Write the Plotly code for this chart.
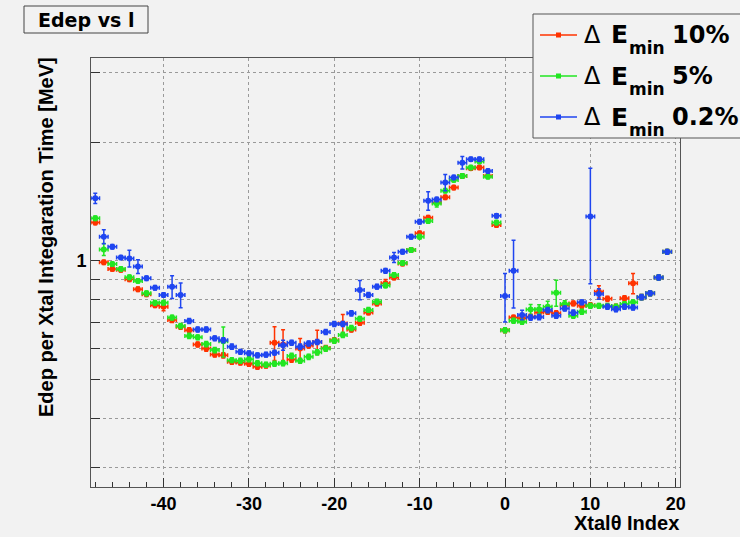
import math
import plotly.graph_objects as go

# ---------------- data ----------------
xtal_index = list(range(-48, 20))

series_names = ["10%", "5%", "0.2%"]
series_colors = ["#ff3300", "#22e622", "#1f45f0"]

red_vals = [1.251, 0.992, 0.955, 0.950, 0.899, 0.848, 0.824, 0.773, 0.766, 0.709,
            0.682, 0.668, 0.615, 0.600, 0.580, 0.577, 0.556, 0.553, 0.549, 0.540,
            0.544, 0.621, 0.615, 0.563, 0.600, 0.611, 0.624, 0.602, 0.630, 0.695,
            0.671, 0.698, 0.741, 0.781, 0.878, 0.908, 0.986, 1.066, 1.175, 1.287,
            1.407, 1.450, 1.534, 1.640, 1.718, 1.724, 1.640, 1.233,
            0.668, 0.719, 0.716, 0.723, 0.741, 0.744, 0.737, 0.773, 0.781, 0.770,
            0.773, 0.836, 0.802, 0.766, 0.805, 0.878, 0.810, 0.828, 0.908, 1.055]
red_err = [0.015, 0.012, 0.012, 0.012, 0.012, 0.011, 0.011, 0.010, 0.018, 0.010,
           0.010, 0.010, 0.009, 0.009, 0.009, 0.009, 0.008, 0.008, 0.008, 0.008,
           0.008, 0.061, 0.055, 0.009, 0.036, 0.009, 0.044, 0.009, 0.009, 0.037,
           0.010, 0.010, 0.010, 0.011, 0.020, 0.012, 0.013, 0.014, 0.015, 0.016,
           0.017, 0.018, 0.019, 0.020, 0.020, 0.020, 0.020, 0.016,
           0.010, 0.010, 0.010, 0.010, 0.011, 0.011, 0.011, 0.011, 0.011, 0.011,
           0.011, 0.030, 0.012, 0.011, 0.012, 0.052, 0.012, 0.012, 0.013, 0.015]

green_vals = [1.283, 1.070, 0.982, 0.955, 0.910, 0.890, 0.828, 0.784, 0.784, 0.719,
              0.685, 0.646, 0.641, 0.616, 0.595, 0.626, 0.561, 0.559, 0.564, 0.551,
              0.546, 0.549, 0.551, 0.575, 0.559, 0.572, 0.587, 0.600, 0.628, 0.650,
              0.677, 0.714, 0.752, 0.789, 0.867, 0.922, 0.988, 1.066, 1.152, 1.262,
              1.399, 1.507, 1.604, 1.642, 1.724, 1.785, 1.635, 1.251,
              0.668, 0.706, 0.702, 0.754, 0.755, 0.766, 0.831, 0.778, 0.727, 0.744,
              0.770, 0.770, 0.769, 0.766, 0.778, 0.786, 0.810, 0.828, 0.908, 1.055]
green_err = [0.016, 0.038, 0.012, 0.012, 0.012, 0.011, 0.011, 0.010, 0.010, 0.010,
             0.010, 0.010, 0.009, 0.009, 0.009, 0.055, 0.008, 0.008, 0.008, 0.008,
             0.008, 0.008, 0.008, 0.009, 0.008, 0.009, 0.009, 0.009, 0.009, 0.010,
             0.010, 0.010, 0.010, 0.011, 0.012, 0.012, 0.013, 0.014, 0.015, 0.016,
             0.030, 0.018, 0.019, 0.020, 0.020, 0.020, 0.020, 0.016,
             0.010, 0.010, 0.010, 0.022, 0.020, 0.025, 0.063, 0.015, 0.011, 0.011,
             0.011, 0.011, 0.011, 0.011, 0.011, 0.011, 0.012, 0.012, 0.013, 0.015]

blue_vals = [1.441, 1.152, 1.087, 1.021, 1.015, 0.968, 0.904, 0.856, 0.820, 0.861,
             0.820, 0.705, 0.671, 0.671, 0.637, 0.630, 0.607, 0.589, 0.584, 0.577,
             0.579, 0.586, 0.612, 0.621, 0.607, 0.618, 0.624, 0.661, 0.693, 0.693,
             0.737, 0.845, 0.820, 0.861, 0.944, 1.021, 1.055, 1.152, 1.257, 1.421,
             1.432, 1.581, 1.628, 1.774, 1.810, 1.810, 1.689, 1.301,
             0.815, 0.944, 0.730, 0.719, 0.721, 0.751, 0.727, 0.758, 0.740, 0.786,
             1.296, 0.825, 0.766, 0.755, 0.766, 0.763, 0.810, 0.828, 0.908, 1.055]
blue_err = [0.043, 0.047, 0.014, 0.012, 0.049, 0.039, 0.012, 0.011, 0.011, 0.057,
            0.059, 0.010, 0.010, 0.010, 0.009, 0.009, 0.009, 0.008, 0.008, 0.008,
            0.008, 0.008, 0.018, 0.009, 0.009, 0.009, 0.009, 0.010, 0.010, 0.010,
            0.011, 0.047, 0.012, 0.012, 0.013, 0.030, 0.014, 0.015, 0.016, 0.077,
            0.018, 0.075, 0.020, 0.064, 0.022, 0.022, 0.020, 0.016,
            0.114, 0.184, 0.020, 0.011, 0.011, 0.011, 0.011, 0.011, 0.011, 0.011,
            0.420, 0.025, 0.011, 0.011, 0.011, 0.011, 0.012, 0.012, 0.013, 0.015]

bin_half_width = 0.5
x_tick_vals = [-40, -30, -20, -10, 0, 10, 20]
x_tick_text = ["-40", "-30", "-20", "-10", "0", "10", "20"]
y_tick_vals = [0.3, 0.4, 0.5, 0.6, 0.7, 0.8, 0.9, 1, 2, 3]
y_tick_text = ["", "", "", "", "", "", "", "1", "", ""]

title_text = "Edep vs l"
x_title = "Xtal\u03b8 Index"
y_title = "Edep per Xtal Integaration Time [MeV]"

# ---------------- layout geometry (pixels) ----------------
W, H = 740, 537
L, R, T, B = 91, 680, 58, 487
BG = "#f2f2f2"


def fx(p):
    return (p - L) / (R - L)


def fy(p):
    return (B - p) / (B - T)


fig = go.Figure()
for vals, errs, col in [(red_vals, red_err, series_colors[0]),
                        (green_vals, green_err, series_colors[1]),
                        (blue_vals, blue_err, series_colors[2])]:
    fig.add_trace(go.Scatter(
        x=xtal_index, y=vals, mode="markers",
        marker=dict(symbol="circle", size=6, color=col, line=dict(width=0)),
        error_y=dict(type="data", array=errs, visible=True, color=col, thickness=1.5, width=2),
        error_x=dict(type="constant", value=bin_half_width, visible=True, color=col, thickness=1.5, width=2),
        showlegend=False, hoverinfo="skip"))

tickfont = dict(family="Liberation Sans", size=18, color="black", weight="bold")

fig.update_xaxes(range=[-48.5, 20.5], tickmode="array", tickvals=x_tick_vals, ticktext=x_tick_text,
                 ticks="inside", ticklen=9, tickwidth=1, tickcolor="#333",
                 showgrid=True, gridcolor="#9a9a9a", griddash="dot", gridwidth=1,
                 showline=True, linecolor="#555", linewidth=1, mirror=True,
                 zeroline=False, tickfont=tickfont,
                 minor=dict(tickmode="linear", tick0=0, dtick=2, ticks="inside", ticklen=5,
                            tickcolor="#333", showgrid=False))
fig.update_yaxes(type="log", range=[math.log10(0.2678), math.log10(3.265)],
                 tickmode="array", tickvals=y_tick_vals, ticktext=y_tick_text,
                 ticks="inside", ticklen=9, tickwidth=1, tickcolor="#333",
                 showgrid=True, gridcolor="#9a9a9a", griddash="dot", gridwidth=1,
                 showline=True, linecolor="#555", linewidth=1, mirror=True,
                 zeroline=False, tickfont=tickfont)

shapes = []
annotations = []

# title box
shapes.append(dict(type="rect", xref="paper", yref="paper",
                   x0=fx(24), x1=fx(148), y0=fy(33), y1=fy(6),
                   line=dict(color="#444", width=1), fillcolor=BG, layer="above"))
annotations.append(dict(xref="paper", yref="paper", x=fx(86), y=fy(20), text=title_text,
                        showarrow=False, xanchor="center", yanchor="middle",
                        font=dict(family="DejaVu Sans", size=19, color="black", weight="bold")))

# axis titles
annotations.append(dict(xref="paper", yref="paper", x=fx(681), y=fy(523), text="<b>%s</b>" % x_title,
                        showarrow=False, xanchor="right", yanchor="middle",
                        font=dict(family="Liberation Sans", size=20, color="black")))
annotations.append(dict(xref="paper", yref="paper", x=fx(46), y=fy(237), text="<b>%s</b>" % y_title,
                        showarrow=False, xanchor="center", yanchor="middle", textangle=-90,
                        font=dict(family="Liberation Sans", size=20, color="black")))

# legend box
shapes.append(dict(type="rect", xref="paper", yref="paper",
                   x0=fx(533), x1=fx(760), y0=fy(138), y1=fy(14),
                   line=dict(color="#555", width=1), fillcolor=BG, layer="above"))
row_y = [35, 76, 117]
for name, col, ry in zip(series_names, series_colors, row_y):
    shapes.append(dict(type="line", xref="paper", yref="paper", x0=fx(540), x1=fx(577),
                       y0=fy(ry), y1=fy(ry), line=dict(color=col, width=1.5), layer="above"))
    shapes.append(dict(type="rect", xref="paper", yref="paper", x0=fx(556), x1=fx(561),
                       y0=fy(ry + 2.5), y1=fy(ry - 2.5), line=dict(width=0), fillcolor=col,
                       layer="above"))
    annotations.append(dict(xref="paper", yref="paper", x=fx(582), y=fy(ry), text="\u0394",
                            showarrow=False, xanchor="left", yanchor="middle",
                            font=dict(family="DejaVu Sans", size=24, color="black")))
    annotations.append(dict(xref="paper", yref="paper", x=fx(609), y=fy(ry), text="<b>E</b>",
                            showarrow=False, xanchor="left", yanchor="middle",
                            font=dict(family="DejaVu Sans", size=25, color="black")))
    annotations.append(dict(xref="paper", yref="paper", x=fx(627), y=fy(ry + 13), text="<b>min</b>",
                            showarrow=False, xanchor="left", yanchor="middle",
                            font=dict(family="DejaVu Sans", size=17, color="black")))
    annotations.append(dict(xref="paper", yref="paper", x=fx(670), y=fy(ry), text="<b>%s</b>" % name,
                            showarrow=False, xanchor="left", yanchor="middle",
                            font=dict(family="DejaVu Sans", size=24, color="black")))

fig.update_layout(width=W, height=H, margin=dict(l=L, r=W - R, t=T, b=H - B, autoexpand=False),
                  paper_bgcolor=BG, plot_bgcolor=BG, shapes=shapes, annotations=annotations,
                  showlegend=False)

fig.write_html("out.html")
